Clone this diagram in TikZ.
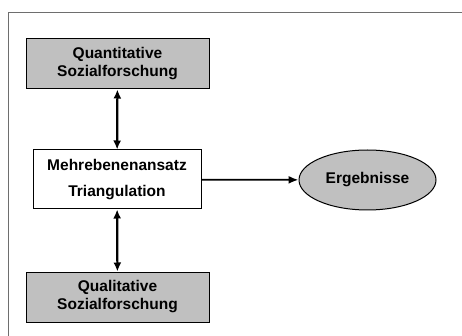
\documentclass[tikz,border=0pt]{standalone}
\usepackage{fontspec}
\setmainfont{Liberation Sans}
\usetikzlibrary{arrows.meta, shapes.geometric}
\definecolor{boxgrey}{RGB}{192,192,192}
\definecolor{framegrey}{RGB}{110,110,110}

\begin{document}
\begin{tikzpicture}[x=1pt, y=-1pt, thick]
  \tikzset{
    box/.style={draw, line width=1pt, align=center, inner sep=0pt,
      font=\bfseries\fontsize{15.5}{18}\selectfont},
    outer/.style={box, fill=boxgrey, minimum width=183pt, minimum height=50pt},
    link/.style={line width=2.2pt, {Latex[length=9pt,width=8pt]}-{Latex[length=9pt,width=8pt]}}
  }
  \useasboundingbox (0,0) rectangle (462,336);
  % frame
  \draw[framegrey, line width=0.9pt] (8,336) -- (8,12) -- (462,12);
  \node[outer] (quant) at (117.5,64) {Quantitative\\Sozialforschung};
  \node[box, minimum width=168pt, minimum height=59pt,
    font=\bfseries\fontsize{15.5}{26}\selectfont] (mehr) at (117,179.5)
    {Mehrebenenansatz\\Triangulation};
  \node[outer] (qual) at (117.5,297) {Qualitative\\Sozialforschung};
  \node[box, ellipse, fill=boxgrey, minimum width=137pt, minimum height=60pt]
    (erg) at (367.5,180) {Ergebnisse};
  \draw[link] (quant) -- (mehr);
  \draw[link] (mehr) -- (qual);
  \draw[line width=1.8pt, -{Latex[length=10pt,width=8pt]}] (mehr) -- (erg);
\end{tikzpicture}
\end{document}
